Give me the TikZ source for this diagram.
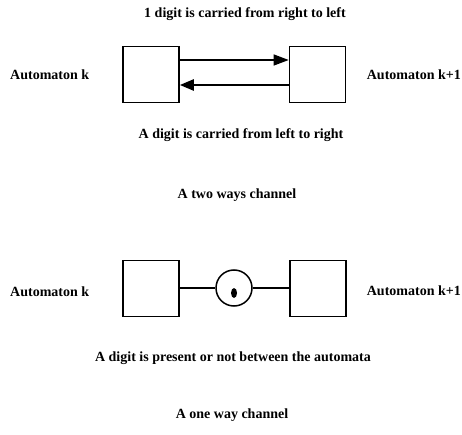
\documentclass[tikz,border=0pt]{standalone}
\usepackage{fontspec}
\setmainfont{Liberation Serif}
\usetikzlibrary{arrows.meta}
\begin{document}
\begin{tikzpicture}[x=1pt,y=-1pt,
  lbl/.style={font=\bfseries\fontsize{14}{16}\selectfont, inner sep=0pt},
  autbox/.style={draw, line width=1.6pt, minimum width=56pt, minimum height=56pt, inner sep=0pt},
  place/.style={draw, circle, line width=1.5pt, minimum size=36pt, inner sep=0pt},
  link/.style={line width=1.3pt}]
\useasboundingbox (0,0) rectangle (462,435);

% two-way channel
\node[lbl] (t1) at (245,14) {1 digit is carried from right to left};
\node[autbox] (a1) at (151,74.5) {};
\node[autbox] (b1) at (317.5,74.5) {};
\node[lbl, anchor=west] (la1) at (10,75) {Automaton k};
\node[lbl, anchor=east] (lb1) at (461,75) {Automaton k+1};
\draw[link, -{Triangle[length=15pt,width=11pt]}] (a1.east |- 0,60) -- (b1.west |- 0,60);
\draw[line width=2.4pt, -{Triangle[length=14pt,width=11pt]}] (b1.west |- 0,85) -- (a1.east |- 0,85);
\node[lbl] (t2) at (241,135) {A digit is carried from left to right};
\node[lbl] (t3) at (237,195) {A two ways channel};

% one-way channel
\node[autbox] (a2) at (151,288.5) {};
\node[autbox] (b2) at (318,288.5) {};
\node[place] (p) at (234,288) {};
\node[lbl, anchor=west] (la2) at (10,292) {Automaton k};
\node[lbl, anchor=east] (lb2) at (461,291) {Automaton k+1};
\draw[link] (a2.east |- p) -- (p.west);
\draw[link] (p.east) -- (b2.west |- p);
\fill (234,293) ellipse (3pt and 5pt);
\node[lbl] (t4) at (233,358) {A digit is present or not between the automata};
\node[lbl] (t5) at (232,415) {A one way channel};
\end{tikzpicture}
\end{document}
